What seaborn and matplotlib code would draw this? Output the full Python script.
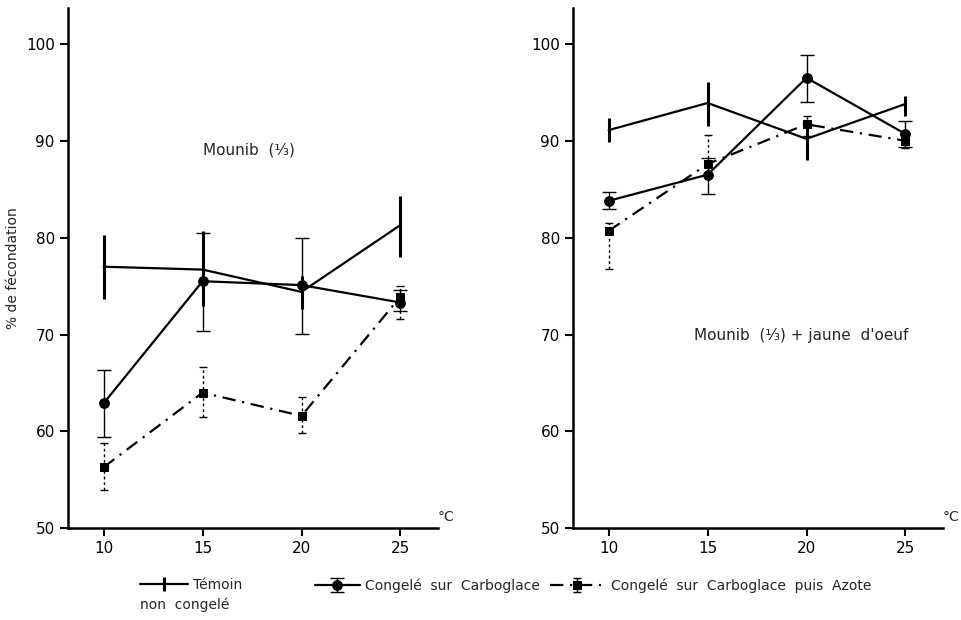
import numpy as np
import matplotlib
matplotlib.use("Agg")
import matplotlib.pyplot as plt
from matplotlib.legend_handler import HandlerTuple
import seaborn as sns

# Style général : fond blanc, axes noirs
sns.set_style("ticks")
plt.rcParams['font.family'] = ['DejaVu Sans']

temperatures = [10, 15, 20, 25]
xtick_labels = ["10", "15", "20", "25"]
yticks = [50, 60, 70, 80, 90, 100]

# --- Mounib (1/3) ---
g_temoin = [77.0, 76.7, 74.4, 81.3]
g_temoin_lo = [73.7, 72.9, 72.6, 78.0]
g_temoin_hi = [80.3, 80.7, 76.0, 84.3]

g_carbo = [62.9, 75.5, 75.1, 73.3]
g_carbo_lo = [59.4, 70.4, 70.1, 72.4]
g_carbo_hi = [66.3, 80.5, 80.0, 74.6]

g_azote = [56.3, 64.0, 61.6, 73.9]
g_azote_lo = [53.9, 61.5, 59.8, 71.6]
g_azote_hi = [58.8, 66.6, 63.5, 75.0]

# --- Mounib (1/3) + jaune d'oeuf ---
d_temoin = [91.1, 93.9, 90.2, 93.8]
d_temoin_lo = [89.9, 91.5, 88.0, 92.6]
d_temoin_hi = [92.4, 96.1, 91.5, 94.6]

d_carbo = [83.8, 86.5, 96.5, 90.7]
d_carbo_lo = [83.0, 84.5, 94.0, 89.4]
d_carbo_hi = [84.7, 88.2, 98.9, 92.0]

d_azote = [80.7, 87.6, 91.7, 90.0]
d_azote_lo = [76.8, 86.5, 90.5, 89.3]
d_azote_hi = [81.5, 90.6, 92.6, 90.6]

legend_labels = ['Témoin', 'Congelé  sur  Carboglace', 'Congelé  sur  Carboglace  puis  Azote']

DASHDOT = (0, (6, 3, 1, 3))


def barres(ax, y, lo, hi, lw, capsize, ls='-'):
    y = np.array(y)
    err = [y - np.array(lo), np.array(hi) - y]
    eb = ax.errorbar(temperatures, y, yerr=err, fmt='none', ecolor='black',
                     elinewidth=lw, capsize=capsize, capthick=1.0, zorder=3)
    if ls != '-':
        for coll in eb[2]:
            coll.set_linestyle(ls)
    return eb


def panneau(ax, temoin, t_lo, t_hi, carbo, c_lo, c_hi, azote, a_lo, a_hi, titre, pos_titre):
    l1 = sns.lineplot(x=temperatures, y=temoin, ax=ax, color='black', lw=1.6,
                      errorbar=None).lines[-1]
    e1 = barres(ax, temoin, t_lo, t_hi, lw=2.2, capsize=0)

    l2 = sns.lineplot(x=temperatures, y=carbo, ax=ax, color='black', lw=1.6,
                      marker='o', markersize=7, markeredgecolor='black',
                      errorbar=None).lines[-1]
    e2 = barres(ax, carbo, c_lo, c_hi, lw=1.0, capsize=5)

    l3 = sns.lineplot(x=temperatures, y=azote, ax=ax, color='black', lw=1.6,
                      marker='s', markersize=6, markeredgecolor='black',
                      linestyle=DASHDOT, errorbar=None).lines[-1]
    e3 = barres(ax, azote, a_lo, a_hi, lw=1.0, capsize=3, ls=(0, (2, 2)))

    ax.set_xlim(8.2, 26.9)
    ax.set_ylim(50, 103.7)
    ax.set_xticks(temperatures)
    ax.set_xticklabels(xtick_labels)
    ax.set_yticks(yticks)
    ax.tick_params(axis='both', direction='out', length=6, width=1.5,
                   labelsize=11, color='black', labelcolor='black')
    for s in ['left', 'bottom']:
        ax.spines[s].set_linewidth(1.8)
        ax.spines[s].set_color('black')
    sns.despine(ax=ax)
    ax.text(1.0, 0.008, '°C', transform=ax.transAxes, ha='left', va='bottom', fontsize=10)
    ax.text(pos_titre[0], pos_titre[1], titre, ha='left', va='center', fontsize=11)
    return [(l1, e1), (l2, e2), (l3, e3)]


fig = plt.figure(figsize=(9.61, 6.20), dpi=100)
ax1 = fig.add_axes([0.0708, 0.148, 0.385, 0.839])
ax2 = fig.add_axes([0.5963, 0.148, 0.385, 0.839])

handles = panneau(ax1, g_temoin, g_temoin_lo, g_temoin_hi,
                  g_carbo, g_carbo_lo, g_carbo_hi,
                  g_azote, g_azote_lo, g_azote_hi,
                  'Mounib  (¹⁄₃)', (15.0, 89.0))
panneau(ax2, d_temoin, d_temoin_lo, d_temoin_hi,
        d_carbo, d_carbo_lo, d_carbo_hi,
        d_azote, d_azote_lo, d_azote_hi,
        "Mounib  (¹⁄₃) + jaune  d'oeuf", (14.3, 69.9))

ax1.set_ylabel('% de fécondation', fontsize=10)
ax1.yaxis.set_label_coords(-0.13, 0.5)
ax2.set_ylabel('')

# Légende : trois entrées placées séparément comme dans la figure d'origine
positions = [0.146, 0.328, 0.572]
longueurs = [3.4, 3.2, 4.0]
for h, lab, x0, hl in zip(handles, legend_labels, positions, longueurs):
    leg = fig.legend([h], [lab], handler_map={tuple: HandlerTuple(ndivide=1)},
                     loc='center left', bbox_to_anchor=(x0, 0.056), frameon=False,
                     fontsize=10, handlelength=hl, handletextpad=0.4,
                     borderpad=0, borderaxespad=0)
fig.text(0.146, 0.024, 'non  congelé', fontsize=10, ha='left', va='center')

fig.savefig('out.png', dpi=100)
